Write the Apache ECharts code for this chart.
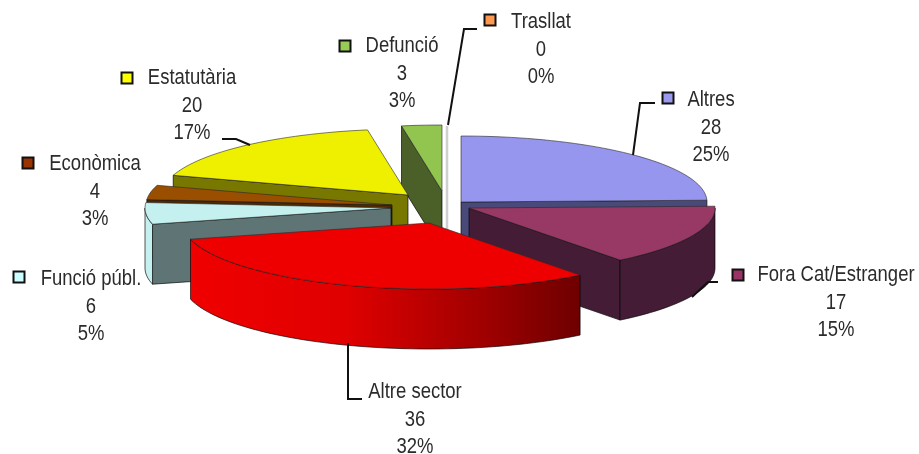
<!DOCTYPE html>
<html>
<head>
<meta charset="utf-8">
<style>
  html, body { margin: 0; padding: 0; background: #fff; }
  #chart { width: 919px; height: 454px; }
</style>
</head>
<body>
<div id="chart"></div>
<script src="https://cdn.jsdelivr.net/npm/echarts@6/dist/echarts.min.js"></script>
<script>
  // dades, en sentit horari des de les 12
  const names = ['Altres', 'Fora Cat/Estranger', 'Altre sector', 'Funció públ.', 'Econòmica', 'Estatutària', 'Defunció', 'Trasllat']
  const values = [28, 17, 36, 6, 4, 20, 3, 0]
  const percents = ['25%', '15%', '32%', '5%', '3%', '17%', '3%', '0%']

  // colors: top, wall
  const topColors = ['#9696ee', '#983864', '#ee0000', '#c5f0f0', '#9a4f00', '#eff000', '#92c450', '#ffffff']
  const wallColors = ['#4a4a7a', '#451c35', '#ee0000', '#5f7575', '#4d2800', '#787800', '#4a6028', '#ffffff']
  const keyColors = ['#9999ee', '#993366', null, '#ccffff', '#993300', '#ffff00', '#99cc55', '#ff9950']

  // layout per slice: apex of the exploded slice, paint order, label centre and key
  const apex = [[461, 202], [469, 208], [429, 223], [391, 208], [392, 205], [408, 195], [442, 191], [447, 192]]
  const paintOrder = [0, 6, 5, 4, 3, 7, 1, 2]
  const labelPos = [[711, 100], [836, 275], [415, 392], [91, 279], [95, 164], [192, 78], [402, 46], [541, 22]]
  const keyPos = [[668, 98], [738, 275], null, [19, 277], [28, 163], [127, 78], [345, 46], [490, 20]]
  const leaders = [
    [[655, 103], [640, 103], [633, 155]],
    [[718, 282], [708, 282], [692, 297]],
    [[362, 399], [348, 399], [348, 343]],
    null,
    null,
    [[222, 139], [236, 139], [250, 145]],
    null,
    [[477, 29], [464, 29], [448, 125]]
  ]

  const rx = 246
  const ry = 66
  const depth = 60
  const lineGap = 27.5
  // no hi ha Arial Narrow instal·lada: s'estreny la Liberation Sans
  const labelFont = '22px "Liberation Sans", sans-serif'
  const labelSquash = 0.84

  const total = values.reduce((a, b) => a + b, 0)
  const rad = d => d * Math.PI / 180

  function rimPoint(c, deg, drop) {
    return [c[0] + rx * Math.sin(rad(deg)), c[1] - ry * Math.cos(rad(deg)) + (drop || 0)]
  }

  function arcPoints(c, from, to, drop) {
    const pts = []
    const n = Math.max(1, Math.ceil((to - from) / 2))
    for (let i = 0; i <= n; i++) {
      pts.push(rimPoint(c, from + (to - from) * i / n, drop))
    }
    return pts
  }

  function wallFill(i) {
    if (i === 2) {
      return {
        type: 'linear', x: 0, y: 0, x2: 1, y2: 0,
        colorStops: [{ offset: 0, color: '#f00000' }, { offset: 0.4, color: '#e00000' }, { offset: 0.75, color: '#a00000' }, { offset: 1, color: '#6e0000' }]
      }
    }
    return wallColors[i]
  }

  function renderSlice(params, api) {
    const i = params.dataIndex
    const c = apex[i]
    const before = values.slice(0, i).reduce((a, b) => a + b, 0)
    const a0 = before / total * 360
    const a1 = (before + api.value(0)) / total * 360
    const base = paintOrder.indexOf(i) * 10
    const children = []
    const line = { stroke: 'rgba(0,0,0,0.65)', lineWidth: 1 }

    if (values[i] === 0) {
      children.push({
        type: 'polyline',
        z2: base,
        shape: { points: [rimPoint(c, a0), [c[0], c[1] + depth]] },
        style: { stroke: '#cfcfcf', lineWidth: 2.5, fill: null }
      })
    } else {
      // cut faces that look towards the viewer
      const faces = []
      if (Math.sin(rad(a1)) > 0.001) faces.push(a1)
      if (-Math.sin(rad(a0)) > 0.001) faces.push(a0)
      faces.forEach(deg => {
        const r = rimPoint(c, deg)
        children.push({
          type: 'polygon',
          z2: base,
          shape: { points: [r, c, [c[0], c[1] + depth], [r[0], r[1] + depth]] },
          style: Object.assign({ fill: wallColors[i] }, line)
        })
      })
      // outer wall, only the front half of the ellipse
      const from = Math.max(a0, 90)
      const to = Math.min(a1, 270)
      if (to > from) {
        const pts = arcPoints(c, from, to, 0).concat(arcPoints(c, from, to, depth).reverse())
        children.push({
          type: 'polygon',
          z2: base + 1,
          shape: { points: pts },
          style: Object.assign({ fill: i === 3 ? topColors[i] : wallFill(i) }, line)
        })
      }
      children.push({
        type: 'polygon',
        z2: base + 2,
        shape: { points: [c].concat(arcPoints(c, a0, a1, 0)) },
        style: { fill: topColors[i], stroke: 'rgba(40,40,40,0.6)', lineWidth: 1 }
      })
    }

    if (leaders[i]) {
      children.push({
        type: 'polyline',
        z2: 200,
        shape: { points: leaders[i] },
        style: { stroke: '#111', lineWidth: 2, fill: null }
      })
    }
    if (keyPos[i]) {
      children.push({
        type: 'rect',
        z2: 200,
        shape: { x: keyPos[i][0] - 5.5, y: keyPos[i][1] - 5.5, width: 11, height: 11 },
        style: { fill: keyColors[i], stroke: '#111', lineWidth: 2 }
      })
    }
    const lines = [names[i], String(api.value(0)), percents[i]]
    lines.forEach((t, k) => {
      children.push({
        type: 'text',
        z2: 200,
        x: labelPos[i][0],
        y: labelPos[i][1] + k * lineGap,
        scaleX: labelSquash,
        style: {
          text: t,
          x: 0,
          y: 0,
          font: labelFont,
          fill: '#2b2b2b',
          align: 'center',
          verticalAlign: 'middle'
        }
      })
    })
    return { type: 'group', children: children }
  }

  const chart = echarts.init(document.getElementById('chart'))
  chart.setOption({
    animation: false,
    backgroundColor: '#fff',
    series: [{
      type: 'custom',
      coordinateSystem: 'none',
      renderItem: renderSlice,
      data: values.map(v => [v])
    }]
  })
</script>
</body>
</html>
